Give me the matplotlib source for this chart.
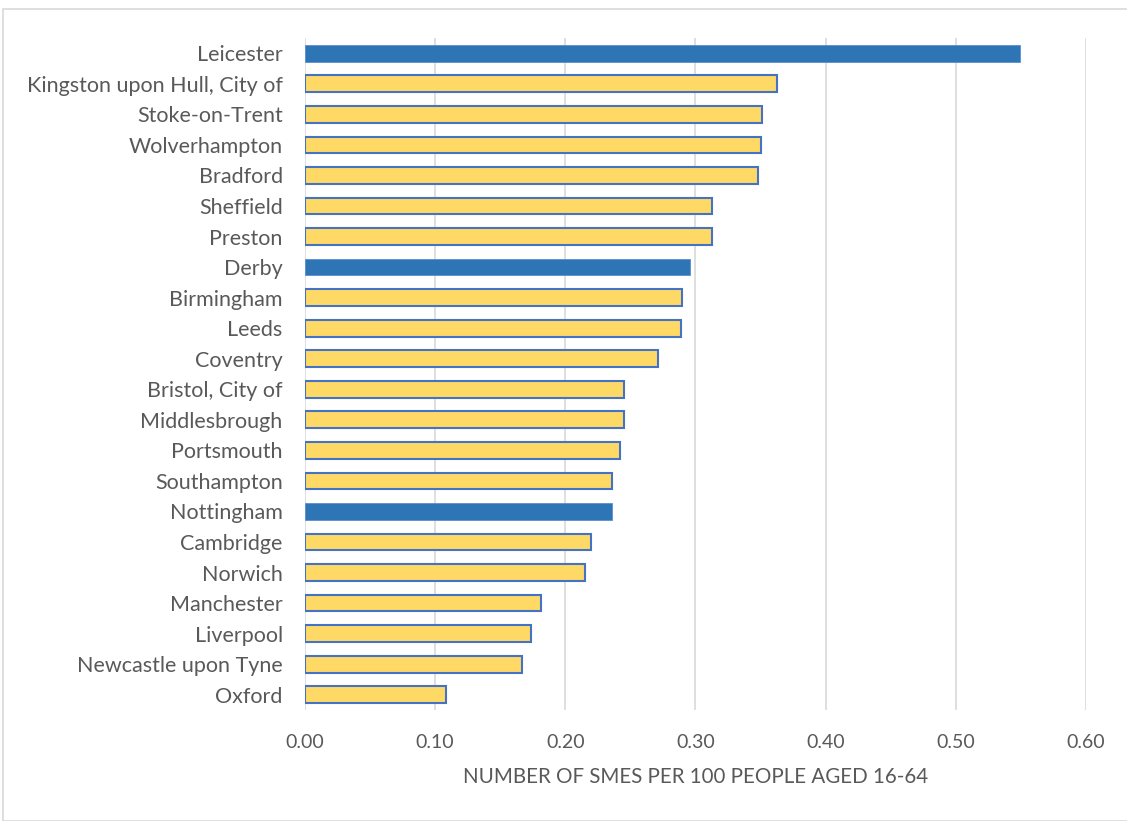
import numpy as np
import matplotlib
matplotlib.use("Agg")
import matplotlib.pyplot as plt
from matplotlib.patches import Rectangle

plt.rcParams["font.family"] = ["Lato", "DejaVu Sans"]

# data
cities = [
    "Leicester", "Kingston upon Hull, City of", "Stoke-on-Trent", "Wolverhampton",
    "Bradford", "Sheffield", "Preston", "Derby", "Birmingham", "Leeds", "Coventry",
    "Bristol, City of", "Middlesbrough", "Portsmouth", "Southampton", "Nottingham",
    "Cambridge", "Norwich", "Manchester", "Liverpool", "Newcastle upon Tyne", "Oxford",
]
values = [
    0.549, 0.363, 0.351, 0.350, 0.348, 0.313, 0.313, 0.296, 0.290, 0.289, 0.271,
    0.245, 0.245, 0.242, 0.236, 0.236, 0.220, 0.215, 0.181, 0.174, 0.167, 0.108,
]
highlight = ["Leicester", "Derby", "Nottingham"]
xticks = [0.0, 0.1, 0.2, 0.3, 0.4, 0.5, 0.6]

text_col = "#595959"
fill_col = "#FFD966"
edge_col = "#4472C4"
hl_col = "#2E75B6"

fig = plt.figure(figsize=(11.27, 8.21), dpi=100)
ax = fig.add_axes([0.2706, 0.1352, 0.6930, 0.8185])

y = np.arange(len(cities))
for i, (c, v) in enumerate(zip(cities, values)):
    if c in highlight:
        ax.barh(i, v, height=0.55, color=hl_col, edgecolor="#5B8FD0", linewidth=0.6, zorder=3)
    else:
        ax.barh(i, v, height=0.55, color=fill_col, edgecolor=edge_col, linewidth=1.5, zorder=3)

ax.set_xlim(0, 0.6)
ax.set_ylim(len(cities) - 0.5, -0.5)
ax.set_yticks(y)
ax.set_yticklabels(cities, fontsize=15.5, color=text_col)
ax.set_xticks(xticks)
ax.set_xticklabels([f"{t:.2f}" for t in xticks], fontsize=14, color=text_col)
ax.tick_params(axis="both", length=0)
ax.tick_params(axis="x", pad=17)
ax.tick_params(axis="y", pad=16)
ax.xaxis.grid(True, color="#D9D9D9", linewidth=1.2, zorder=0)
ax.set_axisbelow(True)
for s in ax.spines.values():
    s.set_visible(False)

ax.set_xlabel("NUMBER OF SMES PER 100 PEOPLE AGED 16-64", fontsize=14.8,
              color=text_col, labelpad=12)

# chart border
fig.patches.append(Rectangle((0.003, 0.0), 1.2, 0.989, transform=fig.transFigure,
                             fill=False, edgecolor="#D9D9D9", linewidth=1.2))

fig.savefig("out.png", dpi=100)
